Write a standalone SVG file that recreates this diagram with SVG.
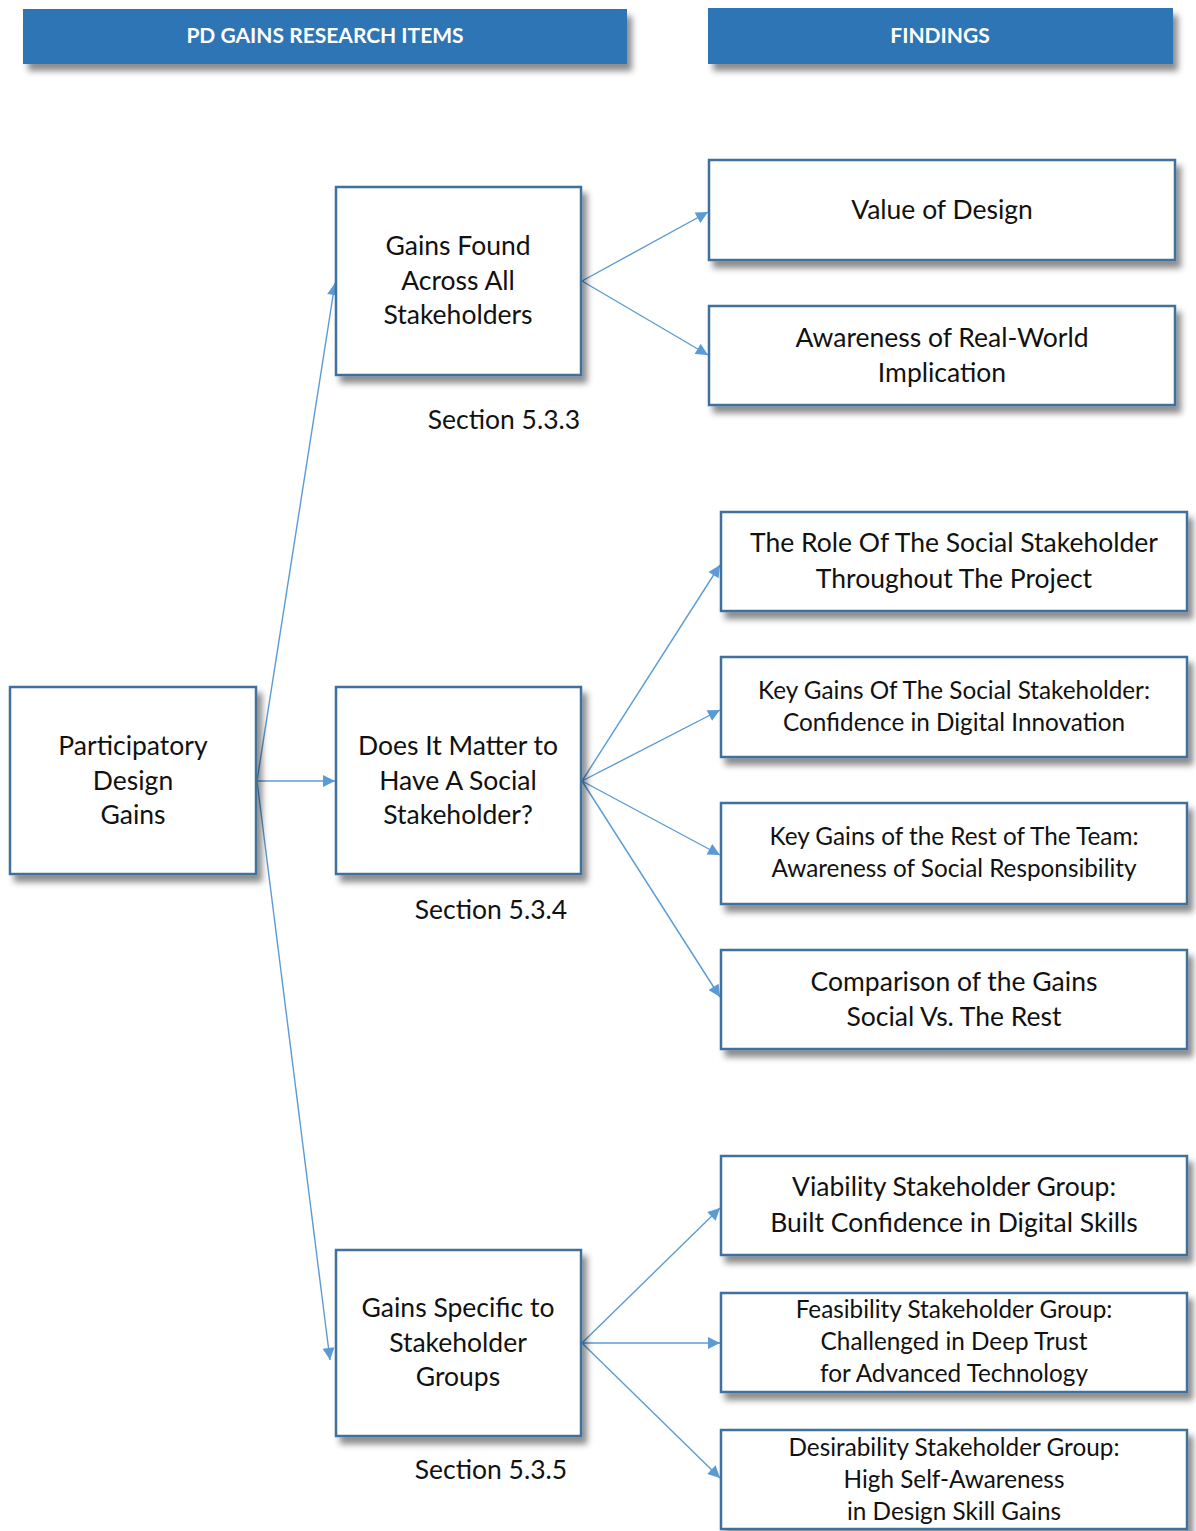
<svg xmlns="http://www.w3.org/2000/svg" width="1196" height="1531" viewBox="0 0 1196 1531">
<defs>
<filter id="sh" x="-10%" y="-10%" width="130%" height="140%">
<feDropShadow dx="5" dy="7" stdDeviation="3" flood-color="#000" flood-opacity="0.45"/>
</filter>
<marker id="ar" viewBox="0 0 10 10" refX="10" refY="5" markerWidth="14" markerHeight="12" markerUnits="userSpaceOnUse" orient="auto">
<path d="M0,0 L10,5 L0,10 z" fill="#5b9bd5"/>
</marker>
<style>
.hdr{fill:#2e74b5;filter:url(#sh)}
.box{fill:#fff;stroke:#41719c;stroke-width:2.5;filter:url(#sh)}
.ht{font-family:"Lato","Liberation Sans",sans-serif;font-weight:bold;font-size:21px;fill:#fff;text-anchor:middle}
.t{font-family:"Lato","Liberation Sans",sans-serif;font-size:26.5px;fill:#111;text-anchor:middle}
.s{font-family:"Lato","Liberation Sans",sans-serif;font-size:24.3px;fill:#111;text-anchor:middle}
.c{stroke:#5b9bd5;stroke-width:1.4;fill:none;marker-end:url(#ar)}
</style>
</defs>
<g id="header-items"><rect class="hdr" x="23" y="9" width="604" height="55"/><text class="ht" x="325" y="43">PD GAINS RESEARCH ITEMS</text></g>
<g id="header-findings"><rect class="hdr" x="708" y="8" width="465" height="56"/><text class="ht" x="940" y="43">FINDINGS</text></g>

<g id="connectors">
<line class="c" x1="257" y1="781" x2="335" y2="283"/>
<line class="c" x1="257" y1="781" x2="335" y2="781"/>
<line class="c" x1="257" y1="781" x2="330" y2="1360"/>
<line class="c" x1="582" y1="281" x2="708" y2="212"/>
<line class="c" x1="582" y1="281" x2="708" y2="355"/>
<line class="c" x1="582" y1="781" x2="720" y2="565"/>
<line class="c" x1="582" y1="781" x2="720" y2="710"/>
<line class="c" x1="582" y1="781" x2="720" y2="855"/>
<line class="c" x1="582" y1="781" x2="720" y2="997"/>
<line class="c" x1="582" y1="1343" x2="720" y2="1208"/>
<line class="c" x1="582" y1="1343" x2="720" y2="1343"/>
<line class="c" x1="582" y1="1343" x2="720" y2="1478"/>
</g>

<g id="pd-gains"><rect class="box" x="10" y="687" width="246" height="187"/>
<text class="t" x="133" y="755">Participatory</text><text class="t" x="133" y="790">Design</text><text class="t" x="133" y="824">Gains</text></g>

<g id="gains-all"><rect class="box" x="336" y="187" width="245" height="188"/>
<text class="t" x="458" y="255">Gains Found</text><text class="t" x="458" y="290">Across All</text><text class="t" x="458" y="324">Stakeholders</text></g>
<text class="t" x="504" y="429">Section 5.3.3</text>

<g id="social"><rect class="box" x="336" y="687" width="245" height="187"/>
<text class="t" x="458" y="755">Does It Matter to</text><text class="t" x="458" y="790">Have A Social</text><text class="t" x="458" y="824">Stakeholder?</text></g>
<text class="t" x="491" y="919">Section 5.3.4</text>

<g id="groups"><rect class="box" x="336" y="1250" width="245" height="186"/>
<text class="t" x="458" y="1317">Gains Specific to</text><text class="t" x="458" y="1352">Stakeholder</text><text class="t" x="458" y="1386">Groups</text></g>
<text class="t" x="491" y="1479">Section 5.3.5</text>

<g id="value"><rect class="box" x="709" y="160" width="466" height="100"/>
<text class="t" x="942" y="219">Value of Design</text></g>
<g id="awareness"><rect class="box" x="709" y="306" width="466" height="99"/>
<text class="t" x="942" y="347">Awareness of Real-World</text><text class="t" x="942" y="382">Implication</text></g>

<g id="role"><rect class="box" x="721" y="512" width="466" height="99"/>
<text class="t" x="954" y="552">The Role Of The Social Stakeholder</text><text class="t" x="954" y="588">Throughout The Project</text></g>
<g id="key-social"><rect class="box" x="721" y="657" width="466" height="100"/>
<text class="s" x="954" y="699">Key Gains Of The Social Stakeholder:</text><text class="s" x="954" y="731">Confidence in Digital Innovation</text></g>
<g id="key-rest"><rect class="box" x="721" y="803" width="466" height="101"/>
<text class="s" x="954" y="845">Key Gains of the Rest of The Team:</text><text class="s" x="954" y="877">Awareness of Social Responsibility</text></g>
<g id="comparison"><rect class="box" x="721" y="950" width="466" height="99"/>
<text class="t" x="954" y="991">Comparison of the Gains</text><text class="t" x="954" y="1026">Social Vs. The Rest</text></g>

<g id="viability"><rect class="box" x="721" y="1156" width="466" height="99"/>
<text class="t" x="954" y="1196">Viability Stakeholder Group:</text><text class="t" x="954" y="1232">Built Confidence in Digital Skills</text></g>
<g id="feasibility"><rect class="box" x="721" y="1293" width="466" height="99"/>
<text class="s" x="954" y="1318">Feasibility Stakeholder Group:</text><text class="s" x="954" y="1350">Challenged in Deep Trust</text><text class="s" x="954" y="1382">for Advanced Technology</text></g>
<g id="desirability"><rect class="box" x="721" y="1430" width="466" height="99"/>
<text class="s" x="954" y="1456">Desirability Stakeholder Group:</text><text class="s" x="954" y="1488">High Self-Awareness</text><text class="s" x="954" y="1520">in Design Skill Gains</text></g>
</svg>
